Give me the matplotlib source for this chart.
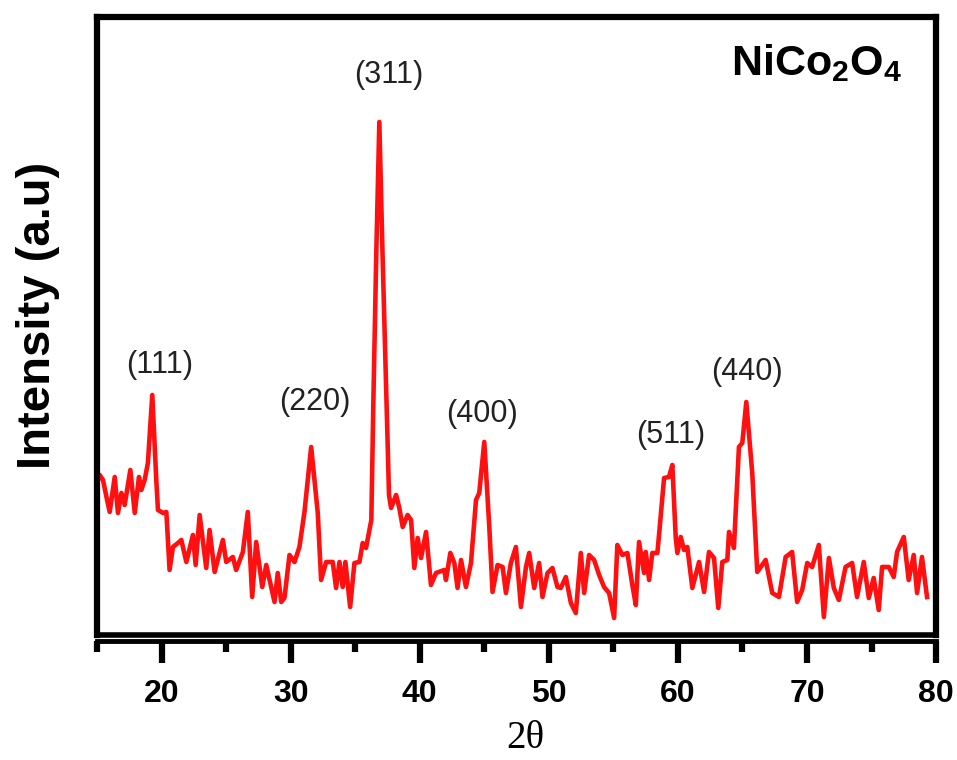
import numpy as np
import matplotlib
matplotlib.use("Agg")
import matplotlib.pyplot as plt
from matplotlib.ticker import MultipleLocator

# XRD pattern of NiCo2O4 (2theta in degrees, intensity a.u.)
two_theta = [15.00, 15.21, 15.46, 15.73, 15.98, 16.37, 16.62, 16.89, 17.14, 17.58,
             17.92, 18.25, 18.43, 18.69, 18.94, 19.28, 19.59, 19.72, 20.11, 20.37,
             20.62, 20.88, 21.27, 21.53, 21.92, 22.43, 22.64, 22.95, 23.46, 23.72,
             24.11, 24.75, 25.01, 25.52, 25.78, 26.30, 26.68, 27.02, 27.33, 27.80,
             28.11, 28.75, 29.00, 29.27, 29.52, 29.91, 30.30, 30.68, 31.07, 31.59,
             32.10, 32.36, 32.75, 33.26, 33.52, 33.78, 34.03, 34.24, 34.61, 34.94,
             35.33, 35.58, 35.84, 36.25, 36.41, 36.64, 36.87, 37.11, 37.42, 37.62,
             37.78, 38.17, 38.42, 38.68, 39.06, 39.33, 39.58, 39.84, 40.10, 40.49,
             40.87, 41.26, 41.90, 42.03, 42.37, 42.68, 42.93, 43.20, 43.58, 43.97,
             44.36, 44.61, 45.00, 45.39, 45.64, 46.03, 46.42, 46.68, 47.06, 47.45,
             47.84, 48.23, 48.48, 48.87, 49.25, 49.51, 49.90, 50.28, 50.67, 50.93,
             51.32, 51.71, 52.09, 52.48, 52.74, 53.12, 53.51, 53.90, 54.28, 54.67,
             55.06, 55.31, 55.70, 56.09, 56.47, 56.74, 56.99, 57.38, 57.51, 57.77,
             58.02, 58.41, 58.54, 58.93, 59.31, 59.57, 59.83, 59.96, 60.22, 60.48,
             60.73, 61.12, 61.64, 62.03, 62.41, 62.80, 63.13, 63.44, 63.83, 63.96,
             64.34, 64.73, 64.99, 65.30, 65.76, 66.15, 66.80, 67.31, 67.83, 68.35,
             68.85, 69.24, 69.63, 70.02, 70.40, 70.92, 71.31, 71.70, 72.08, 72.47,
             72.99, 73.50, 73.88, 74.40, 74.79, 75.17, 75.56, 75.82, 76.34, 76.72,
             76.98, 77.50, 77.88, 78.27, 78.53, 78.91, 79.30]
intensity = [152, 160, 155, 138, 123, 158, 122, 142, 130, 165,
             122, 158, 145, 155, 172, 240, 155, 125, 122, 123,
             65, 88, 92, 95, 73, 100, 70, 120, 67, 105,
             63, 95, 73, 78, 65, 83, 123, 38, 93, 48,
             70, 33, 62, 33, 37, 80, 73, 88, 123, 188,
             122, 55, 73, 73, 47, 73, 48, 73, 28, 72,
             73, 92, 87, 115, 235, 385, 513, 385, 235, 140,
             127, 140, 127, 108, 120, 115, 67, 97, 77, 103,
             50, 62, 65, 55, 82, 72, 47, 75, 48, 72,
             135, 142, 193, 108, 43, 70, 68, 42, 72, 88,
             28, 68, 82, 47, 72, 38, 62, 67, 48, 47,
             58, 32, 22, 82, 42, 80, 75, 60, 48, 42,
             17, 90, 80, 82, 50, 30, 93, 62, 83, 55,
             82, 82, 100, 157, 158, 170, 98, 82, 98, 85,
             88, 47, 73, 43, 83, 77, 27, 73, 75, 103,
             87, 188, 192, 233, 162, 63, 75, 42, 38, 78,
             83, 33, 45, 72, 68, 90, 18, 77, 47, 35,
             68, 72, 38, 73, 37, 57, 25, 68, 68, 58,
             83, 98, 55, 80, 42, 78, 38]

# Miller index labels and where they sit
hkl = ["(111)", "(220)", "(311)", "(400)", "(511)", "(440)"]
hkl_x = [19.86, 31.86, 37.60, 44.82, 59.44, 65.33]
hkl_y = [270, 233, 560, 221, 200, 263]

xticks = [20, 30, 40, 50, 60, 70, 80]


def main():
    plt.rcParams['font.family'] = ['Liberation Sans', 'DejaVu Sans']
    plt.rcParams['mathtext.fontset'] = 'custom'
    plt.rcParams['mathtext.bf'] = 'Liberation Sans:bold'
    plt.rcParams['mathtext.rm'] = 'Liberation Sans'

    fig = plt.figure(figsize=(9.57, 7.6), dpi=100)
    ax = fig.add_axes([0.1014, 0.1645, 0.8767, 0.8132])

    ax.plot(two_theta, intensity, color='#ff1010', lw=3.3,
            solid_joinstyle='round', clip_on=False)

    ax.set_xlim(15, 80)
    ax.set_ylim(0, 618)
    ax.set_xticks(xticks)
    ax.xaxis.set_minor_locator(MultipleLocator(5))
    ax.set_yticks([])

    for s in ['left', 'right', 'top']:
        ax.spines[s].set_linewidth(4.5)
    ax.spines['bottom'].set_linewidth(3.5)
    ax.spines['bottom'].set_position(('outward', 4))
    # bottom edge of the frame sits just above the offset axis line
    ax.plot([0, 1], [0, 0], transform=ax.transAxes, color='black',
            lw=4.0, clip_on=False, solid_capstyle='projecting')

    ax.tick_params(axis='x', which='major', direction='out', length=16,
                   width=4.5, pad=12, labelsize=23)
    ax.tick_params(axis='x', which='minor', direction='out', length=8,
                   width=4.5)
    for lab in ax.get_xticklabels():
        lab.set_fontweight('bold')

    for t, x, y in zip(hkl, hkl_x, hkl_y):
        ax.text(x, y, t, ha='center', va='center', fontsize=22,
                color='#222222')

    ax.text(902 / 957, 1 - 75 / 760, r'$\mathbf{NiCo_2O_4}$',
            transform=fig.transFigure, ha='right', va='baseline',
            fontsize=31)

    fig.text(525 / 957, 1 - 738 / 760, '2\u03b8', ha='center', va='center',
             fontsize=28, family=['Liberation Serif', 'DejaVu Serif'])
    fig.text(38 / 957, 1 - 315 / 760, 'Intensity (a.u)', rotation=90,
             ha='center', va='center', fontsize=34, fontweight='bold')

    fig.savefig('out.png', dpi=100)


if __name__ == '__main__':
    main()
